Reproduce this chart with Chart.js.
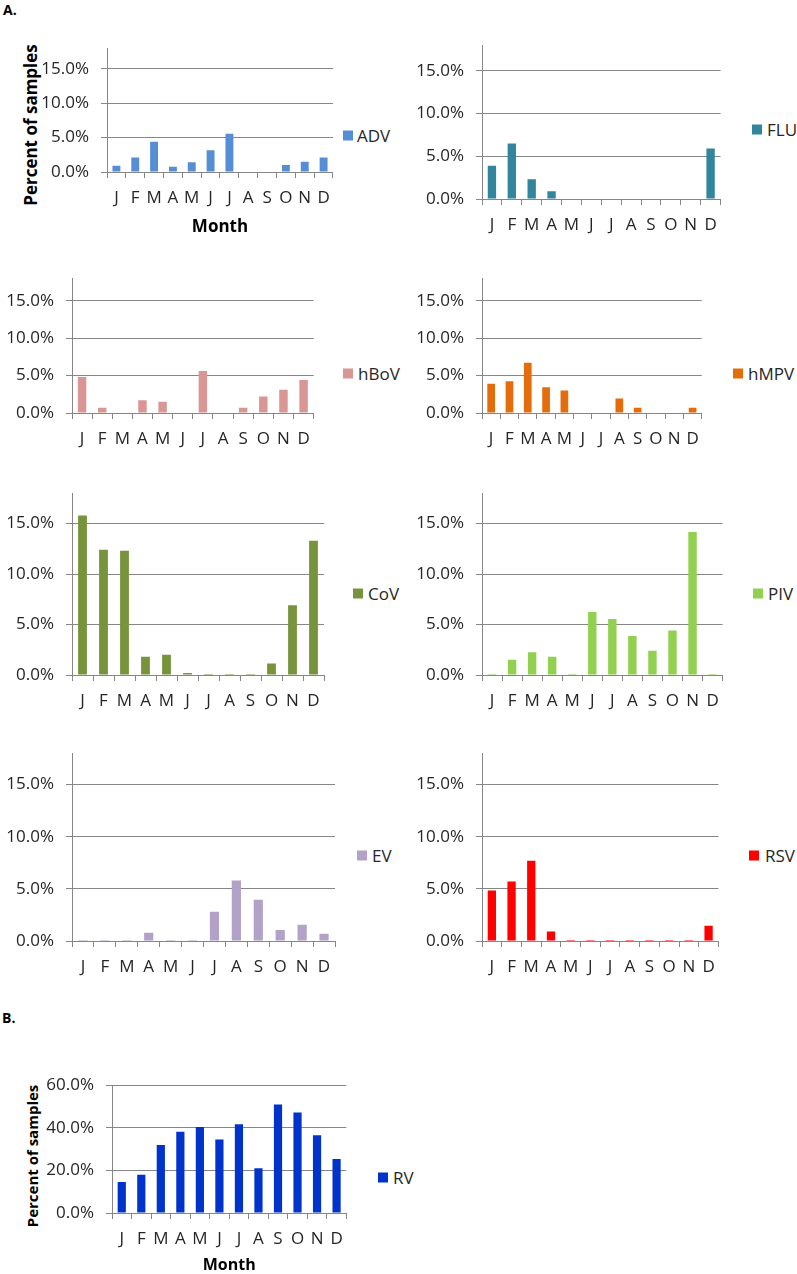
<!DOCTYPE html>
<html>
<head>
<meta charset="utf-8">
<script src="https://cdn.jsdelivr.net/npm/chart.js@4.4.1/dist/chart.umd.min.js"></script>
<style>
  html, body { margin:0; padding:0; background:#fff; width:797px; height:1274px; overflow:hidden; }
  body { position:relative; font-family:"Open Sans", sans-serif; color:#262626; }
  canvas { position:absolute; }
  .lab { position:absolute; font-weight:bold; color:#000; }
  .ytitle { position:absolute; font-weight:bold; color:#000; white-space:nowrap; transform:translate(-50%,-50%) rotate(-90deg); }
  .legend { position:absolute; transform:translateY(-50%); font-size:17px; white-space:nowrap; display:flex; align-items:center; color:#262626; }
  .legend span.sq { display:inline-block; width:10px; height:10px; margin-right:5px; }
</style>
</head>
<body>
<div class="lab" style="left:3px; top:0px; font-size:14px; line-height:20px;">A.</div>
<div class="lab" style="left:2px; top:1008px; font-size:14px; line-height:20px;">B.</div>
<div class="ytitle" style="left:30px; top:125px; font-size:17px;">Percent of samples</div>
<div class="ytitle" style="left:32px; top:1156px; font-size:15px;">Percent of samples</div>

<script>
// ---- data ----
const months = ['J','F','M','A','M','J','J','A','S','O','N','D'];
const advValues  = [0.9, 2.1, 4.4, 0.75, 1.4, 3.15, 5.55, 0, 0, 1.0, 1.5, 2.1];
const fluValues  = [3.9, 6.5, 2.3, 0.9, 0, 0, 0, 0, 0, 0, 0, 5.9];
const hbovValues = [4.8, 0.7, 0, 1.7, 1.5, 0, 5.6, 0, 0.7, 2.2, 3.1, 4.4];
const hmpvValues = [3.9, 4.25, 6.7, 3.45, 3.0, 0, 0, 1.95, 0.7, 0, 0, 0.7];
const covValues  = [15.8, 12.4, 12.3, 1.8, 2.0, 0.2, 0.1, 0.1, 0.1, 1.15, 6.9, 13.3];
const pivValues  = [0.1, 1.5, 2.25, 1.8, 0.1, 6.25, 5.55, 3.85, 2.4, 4.4, 14.15, 0.1];
const evValues   = [0.1, 0.1, 0.1, 0.8, 0.1, 0.1, 2.8, 5.8, 3.95, 1.05, 1.55, 0.7];
const rsvValues  = [4.85, 5.7, 7.7, 0.9, 0.1, 0.1, 0.1, 0.1, 0.1, 0.1, 0.1, 1.45];
const rvValues   = [14.5, 18.0, 31.9, 38.1, 40.4, 34.5, 41.7, 21.0, 50.9, 47.2, 36.5, 25.4];
const panelATicks = [0, 5, 10, 15];
const panelAMax = 18;
const panelBTicks = [0, 20, 40, 60];
const panelBMax = 60;

// ---- layout (plot area boxes) ----
const panels = [
  {name:'ADV',  values:advValues,  color:'#558ED5', L:107, R:334, T:38,   B:172,  ticks:panelATicks, max:panelAMax, xTitle:'Month', xTitleSize:17, xh:69, leg:[343,135,357]},
  {name:'FLU',  values:fluValues,  color:'#31859C', L:482, R:721, T:35,   B:199,  ticks:panelATicks, max:panelAMax, xh:40, leg:[752,129,767]},
  {name:'hBoV', values:hbovValues, color:'#D99694', L:72,  R:314, T:268,  B:413,  ticks:panelATicks, max:panelAMax, xh:40, leg:[343,373,358]},
  {name:'hMPV', values:hmpvValues, color:'#E46C0A', L:482, R:703, T:268,  B:413,  ticks:panelATicks, max:panelAMax, xh:40, leg:[733,373,748]},
  {name:'CoV',  values:covValues,  color:'#77933C', L:72,  R:324, T:483,  B:675,  ticks:panelATicks, max:panelAMax, xh:40, leg:[353,593,368]},
  {name:'PIV',  values:pivValues,  color:'#92D050', L:482, R:723, T:483,  B:675,  ticks:panelATicks, max:panelAMax, xh:40, leg:[753,593,768]},
  {name:'EV',   values:evValues,   color:'#B3A2C7', L:72,  R:335, T:743,  B:941,  ticks:panelATicks, max:panelAMax, xh:40, leg:[357,855,372]},
  {name:'RSV',  values:rsvValues,  color:'#FF0000', L:482, R:719, T:743,  B:941,  ticks:panelATicks, max:panelAMax, xh:40, leg:[749,855,765]},
  {name:'RV',   values:rvValues,   color:'#0033CC', L:112, R:347, T:1075, B:1213, ticks:panelBTicks, max:panelBMax, xTitle:'Month', xTitleSize:16, xh:66, leg:[378,1177,393]}
];

const YW = 72, PADT = 12, PADR = 6;
const axisGray = '#868686';
const textCol = '#262626';

panels.forEach(p => {
  const cv = document.createElement('canvas');
  const w = YW + (p.R - p.L) + PADR;
  const h = PADT + (p.B - p.T) + p.xh;
  cv.width = w; cv.height = h;
  cv.style.left = (p.L - YW) + 'px';
  cv.style.top = (p.T - PADT) + 'px';
  cv.style.width = w + 'px'; cv.style.height = h + 'px';
  document.body.appendChild(cv);

  new Chart(cv, {
    type: 'bar',
    data: {
      labels: months,
      datasets: [{ label: p.name, data: p.values, backgroundColor: p.color, borderWidth: 0,
                   barPercentage: 0.42, categoryPercentage: 1.0 }]
    },
    options: {
      responsive: false, animation: false, devicePixelRatio: 1,
      layout: { padding: { top: PADT, right: PADR, left: 0, bottom: 0 } },
      plugins: { legend: { display: false }, tooltip: { enabled: false } },
      scales: {
        x: {
          offset: true,
          grid: { offset: true, drawOnChartArea: false, drawTicks: true, tickLength: 6, color: axisGray, lineWidth: 1 },
          border: { color: axisGray, width: 1 },
          ticks: { color: textCol, font: { family: 'Open Sans', size: 17 }, padding: 10, maxRotation: 0, autoSkip: false },
          title: p.xTitle ? { display: true, text: p.xTitle, color: '#000',
                               font: { family: 'Open Sans', size: p.xTitleSize, weight: 'bold' },
                               padding: { top: 4, bottom: 4 } } : { display: false },
          afterFit: s => { s.height = p.xh; }
        },
        y: {
          min: 0, max: p.max,
          afterBuildTicks: s => { s.ticks = p.ticks.map(v => ({ value: v })); },
          grid: { color: axisGray, lineWidth: 1, drawTicks: true, tickLength: 6 },
          border: { color: axisGray, width: 1 },
          ticks: { color: textCol, font: { family: 'Open Sans', size: 17 }, padding: 12,
                   callback: v => Number(v).toFixed(1) + '%' },
          afterFit: s => { s.width = YW; }
        }
      }
    }
  });

  const lg = document.createElement('div');
  lg.className = 'legend';
  lg.style.left = p.leg[0] + 'px';
  lg.style.top = p.leg[1] + 'px';
  const sq = document.createElement('span');
  sq.className = 'sq';
  sq.style.background = p.color;
  sq.style.marginRight = (p.leg[2] - p.leg[0] - 10) + 'px';
  lg.appendChild(sq);
  lg.appendChild(document.createTextNode(p.name));
  document.body.appendChild(lg);
});
</script>
</body>
</html>
